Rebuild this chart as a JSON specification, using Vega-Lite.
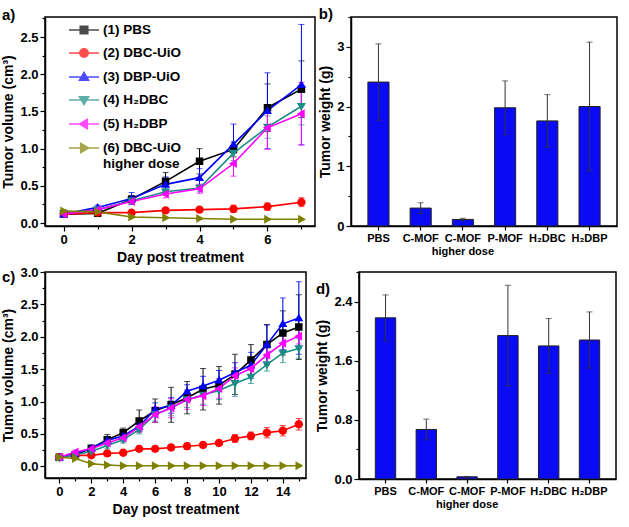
{
"$schema":"https://vega.github.io/schema/vega-lite/v6.json",
"padding":{"left":1,"top":6,"right":2,"bottom":2},
"config":{
 "font":"Liberation Sans",
 "view":{"stroke":"black","strokeWidth":1.5},
 "axis":{"domainColor":"black","domainWidth":1.5,"tickColor":"black","tickWidth":1.2,"labelFont":"Liberation Sans","labelFontWeight":"bold","labelFontSize":13,"labelColor":"black","titleFont":"Liberation Sans","titleFontWeight":"bold","titleFontSize":14,"titleColor":"black","grid":false,"labelPadding":2},
 "title":{"anchor":"start","frame":"bounds","fontSize":15,"fontWeight":"bold","font":"Liberation Sans","color":"black"}
},
"datasets":{
"a":[
{"d":0,"s":"(1) PBS","v":0.12,"e":0.02},{"d":1,"s":"(1) PBS","v":0.13,"e":0.02},{"d":2,"s":"(1) PBS","v":0.32,"e":0.05},{"d":3,"s":"(1) PBS","v":0.56,"e":0.12},{"d":4,"s":"(1) PBS","v":0.83,"e":0.17},{"d":5,"s":"(1) PBS","v":0.99,"e":0.1},{"d":6,"s":"(1) PBS","v":1.55,"e":0.32},{"d":7,"s":"(1) PBS","v":1.8,"e":0.38},
{"d":0,"s":"(2) DBC-UiO","v":0.12,"e":0.02},{"d":1,"s":"(2) DBC-UiO","v":0.14,"e":0.02},{"d":2,"s":"(2) DBC-UiO","v":0.14,"e":0.02},{"d":3,"s":"(2) DBC-UiO","v":0.17,"e":0.03},{"d":4,"s":"(2) DBC-UiO","v":0.18,"e":0.03},{"d":5,"s":"(2) DBC-UiO","v":0.19,"e":0.05},{"d":6,"s":"(2) DBC-UiO","v":0.22,"e":0.05},{"d":7,"s":"(2) DBC-UiO","v":0.28,"e":0.06},
{"d":0,"s":"(3) DBP-UiO","v":0.12,"e":0.02},{"d":1,"s":"(3) DBP-UiO","v":0.21,"e":0.03},{"d":2,"s":"(3) DBP-UiO","v":0.33,"e":0.08},{"d":3,"s":"(3) DBP-UiO","v":0.52,"e":0.1},{"d":4,"s":"(3) DBP-UiO","v":0.61,"e":0.12},{"d":5,"s":"(3) DBP-UiO","v":1.06,"e":0.27},{"d":6,"s":"(3) DBP-UiO","v":1.51,"e":0.51},{"d":7,"s":"(3) DBP-UiO","v":1.86,"e":0.81},
{"d":0,"s":"(4) H₂DBC","v":0.13,"e":0.02},{"d":1,"s":"(4) H₂DBC","v":0.18,"e":0.03},{"d":2,"s":"(4) H₂DBC","v":0.3,"e":0.04},{"d":3,"s":"(4) H₂DBC","v":0.42,"e":0.05},{"d":4,"s":"(4) H₂DBC","v":0.47,"e":0.05},{"d":5,"s":"(4) H₂DBC","v":0.94,"e":0.1},{"d":6,"s":"(4) H₂DBC","v":1.29,"e":0.15},{"d":7,"s":"(4) H₂DBC","v":1.57,"e":0.25},
{"d":0,"s":"(5) H₂DBP","v":0.12,"e":0.02},{"d":1,"s":"(5) H₂DBP","v":0.18,"e":0.03},{"d":2,"s":"(5) H₂DBP","v":0.29,"e":0.04},{"d":3,"s":"(5) H₂DBP","v":0.39,"e":0.05},{"d":4,"s":"(5) H₂DBP","v":0.46,"e":0.06},{"d":5,"s":"(5) H₂DBP","v":0.8,"e":0.17},{"d":6,"s":"(5) H₂DBP","v":1.28,"e":0.29},{"d":7,"s":"(5) H₂DBP","v":1.47,"e":0.42},
{"d":0,"s":"(6) DBC-UiO higher dose","v":0.16,"e":0.02},{"d":1,"s":"(6) DBC-UiO higher dose","v":0.15,"e":0.01},{"d":2,"s":"(6) DBC-UiO higher dose","v":0.08,"e":0.01},{"d":3,"s":"(6) DBC-UiO higher dose","v":0.07,"e":0.01},{"d":4,"s":"(6) DBC-UiO higher dose","v":0.06,"e":0.01},{"d":5,"s":"(6) DBC-UiO higher dose","v":0.05,"e":0.01},{"d":6,"s":"(6) DBC-UiO higher dose","v":0.05,"e":0.01},{"d":7,"s":"(6) DBC-UiO higher dose","v":0.05,"e":0.01}
],
"c":[
{"d":0,"s":"(1) PBS","v":0.14,"e":0.02},{"d":1,"s":"(1) PBS","v":0.18,"e":0.03},{"d":2,"s":"(1) PBS","v":0.28,"e":0.04},{"d":3,"s":"(1) PBS","v":0.41,"e":0.08},{"d":4,"s":"(1) PBS","v":0.52,"e":0.07},{"d":5,"s":"(1) PBS","v":0.7,"e":0.17},{"d":6,"s":"(1) PBS","v":0.86,"e":0.18},{"d":7,"s":"(1) PBS","v":0.95,"e":0.27},{"d":8,"s":"(1) PBS","v":1.06,"e":0.25},{"d":9,"s":"(1) PBS","v":1.19,"e":0.32},{"d":10,"s":"(1) PBS","v":1.25,"e":0.29},{"d":11,"s":"(1) PBS","v":1.42,"e":0.31},{"d":12,"s":"(1) PBS","v":1.64,"e":0.24},{"d":13,"s":"(1) PBS","v":1.88,"e":0.31},{"d":14,"s":"(1) PBS","v":2.06,"e":0.34},{"d":15,"s":"(1) PBS","v":2.15,"e":0.5},
{"d":0,"s":"(2) DBC-UiO","v":0.14,"e":0.02},{"d":1,"s":"(2) DBC-UiO","v":0.17,"e":0.02},{"d":2,"s":"(2) DBC-UiO","v":0.17,"e":0.03},{"d":3,"s":"(2) DBC-UiO","v":0.2,"e":0.03},{"d":4,"s":"(2) DBC-UiO","v":0.21,"e":0.03},{"d":5,"s":"(2) DBC-UiO","v":0.27,"e":0.04},{"d":6,"s":"(2) DBC-UiO","v":0.27,"e":0.04},{"d":7,"s":"(2) DBC-UiO","v":0.29,"e":0.04},{"d":8,"s":"(2) DBC-UiO","v":0.31,"e":0.05},{"d":9,"s":"(2) DBC-UiO","v":0.33,"e":0.04},{"d":10,"s":"(2) DBC-UiO","v":0.36,"e":0.04},{"d":11,"s":"(2) DBC-UiO","v":0.43,"e":0.06},{"d":12,"s":"(2) DBC-UiO","v":0.47,"e":0.06},{"d":13,"s":"(2) DBC-UiO","v":0.52,"e":0.08},{"d":14,"s":"(2) DBC-UiO","v":0.55,"e":0.08},{"d":15,"s":"(2) DBC-UiO","v":0.65,"e":0.09},
{"d":0,"s":"(3) DBP-UiO","v":0.14,"e":0.02},{"d":1,"s":"(3) DBP-UiO","v":0.2,"e":0.03},{"d":2,"s":"(3) DBP-UiO","v":0.28,"e":0.04},{"d":3,"s":"(3) DBP-UiO","v":0.4,"e":0.06},{"d":4,"s":"(3) DBP-UiO","v":0.47,"e":0.07},{"d":5,"s":"(3) DBP-UiO","v":0.62,"e":0.08},{"d":6,"s":"(3) DBP-UiO","v":0.88,"e":0.1},{"d":7,"s":"(3) DBP-UiO","v":0.94,"e":0.12},{"d":8,"s":"(3) DBP-UiO","v":1.16,"e":0.1},{"d":9,"s":"(3) DBP-UiO","v":1.24,"e":0.15},{"d":10,"s":"(3) DBP-UiO","v":1.33,"e":0.15},{"d":11,"s":"(3) DBP-UiO","v":1.45,"e":0.15},{"d":12,"s":"(3) DBP-UiO","v":1.56,"e":0.2},{"d":13,"s":"(3) DBP-UiO","v":1.88,"e":0.3},{"d":14,"s":"(3) DBP-UiO","v":2.2,"e":0.4},{"d":15,"s":"(3) DBP-UiO","v":2.29,"e":0.56},
{"d":0,"s":"(4) H₂DBC","v":0.13,"e":0.02},{"d":1,"s":"(4) H₂DBC","v":0.18,"e":0.03},{"d":2,"s":"(4) H₂DBC","v":0.23,"e":0.03},{"d":3,"s":"(4) H₂DBC","v":0.32,"e":0.05},{"d":4,"s":"(4) H₂DBC","v":0.41,"e":0.05},{"d":5,"s":"(4) H₂DBC","v":0.57,"e":0.07},{"d":6,"s":"(4) H₂DBC","v":0.8,"e":0.1},{"d":7,"s":"(4) H₂DBC","v":0.9,"e":0.12},{"d":8,"s":"(4) H₂DBC","v":1.03,"e":0.12},{"d":9,"s":"(4) H₂DBC","v":1.1,"e":0.14},{"d":10,"s":"(4) H₂DBC","v":1.17,"e":0.14},{"d":11,"s":"(4) H₂DBC","v":1.28,"e":0.2},{"d":12,"s":"(4) H₂DBC","v":1.38,"e":0.1},{"d":13,"s":"(4) H₂DBC","v":1.57,"e":0.1},{"d":14,"s":"(4) H₂DBC","v":1.75,"e":0.15},{"d":15,"s":"(4) H₂DBC","v":1.82,"e":0.15},
{"d":0,"s":"(5) H₂DBP","v":0.14,"e":0.02},{"d":1,"s":"(5) H₂DBP","v":0.22,"e":0.03},{"d":2,"s":"(5) H₂DBP","v":0.27,"e":0.04},{"d":3,"s":"(5) H₂DBP","v":0.36,"e":0.05},{"d":4,"s":"(5) H₂DBP","v":0.44,"e":0.06},{"d":5,"s":"(5) H₂DBP","v":0.61,"e":0.08},{"d":6,"s":"(5) H₂DBP","v":0.8,"e":0.12},{"d":7,"s":"(5) H₂DBP","v":0.9,"e":0.15},{"d":8,"s":"(5) H₂DBP","v":1.03,"e":0.15},{"d":9,"s":"(5) H₂DBP","v":1.09,"e":0.15},{"d":10,"s":"(5) H₂DBP","v":1.2,"e":0.15},{"d":11,"s":"(5) H₂DBP","v":1.4,"e":0.12},{"d":12,"s":"(5) H₂DBP","v":1.51,"e":0.12},{"d":13,"s":"(5) H₂DBP","v":1.72,"e":0.12},{"d":14,"s":"(5) H₂DBP","v":1.9,"e":0.12},{"d":15,"s":"(5) H₂DBP","v":2.01,"e":0.12},
{"d":0,"s":"(6) DBC-UiO higher dose","v":0.14,"e":0.02},{"d":1,"s":"(6) DBC-UiO higher dose","v":0.12,"e":0.01},{"d":2,"s":"(6) DBC-UiO higher dose","v":0.04,"e":0.01},{"d":3,"s":"(6) DBC-UiO higher dose","v":0.02,"e":0.01},{"d":4,"s":"(6) DBC-UiO higher dose","v":0.01,"e":0.01},{"d":5,"s":"(6) DBC-UiO higher dose","v":0.01,"e":0.01},{"d":6,"s":"(6) DBC-UiO higher dose","v":0.01,"e":0.01},{"d":7,"s":"(6) DBC-UiO higher dose","v":0.01,"e":0.01},{"d":8,"s":"(6) DBC-UiO higher dose","v":0.01,"e":0.01},{"d":9,"s":"(6) DBC-UiO higher dose","v":0.01,"e":0.01},{"d":10,"s":"(6) DBC-UiO higher dose","v":0.01,"e":0.01},{"d":11,"s":"(6) DBC-UiO higher dose","v":0.01,"e":0.01},{"d":12,"s":"(6) DBC-UiO higher dose","v":0.01,"e":0.01},{"d":13,"s":"(6) DBC-UiO higher dose","v":0.01,"e":0.01},{"d":14,"s":"(6) DBC-UiO higher dose","v":0.01,"e":0.01},{"d":15,"s":"(6) DBC-UiO higher dose","v":0.01,"e":0.01}
],
"b":[{"g":"PBS","w":2.41,"e":0.64},{"g":"C-MOF","w":0.3,"e":0.09},{"g":"C-MOF|higher dose","w":0.11,"e":0.02},{"g":"P-MOF","w":1.98,"e":0.45},{"g":"H₂DBC","w":1.76,"e":0.44},{"g":"H₂DBP","w":2.0,"e":1.08}],
"dd":[{"g":"PBS","w":2.18,"e":0.31},{"g":"C-MOF","w":0.67,"e":0.14},{"g":"C-MOF|higher dose","w":0.03,"e":0.005},{"g":"P-MOF","w":1.94,"e":0.68},{"g":"H₂DBC","w":1.8,"e":0.37},{"g":"H₂DBP","w":1.88,"e":0.38}],
"arA":[{"d":0},{"d":4}],
"arC":[{"d":0},{"d":4},{"d":8},{"d":12}]
},
"vconcat":[
{"hconcat":[
{
 "width":270,"height":209,
 "title":{"text":"a)","dy":10},
 "data":{"name":"a"},
 "encoding":{
  "x":{"field":"d","type":"quantitative","scale":{"domain":[-0.55,7.4],"nice":false,"zero":false},"axis":{"title":"Day post treatment","values":[0,1,2,3,4,5,6,7],"labelExpr":"datum.value % 2 == 0 ? datum.label : ''","tickSize":{"condition":{"test":"datum.value % 2 == 0","value":5},"value":3}}},
  "y":{"field":"v","type":"quantitative","scale":{"domain":[-0.04,2.77],"nice":false,"zero":false},"axis":{"title":"Tumor volume (cm³)","values":[0,0.25,0.5,0.75,1,1.25,1.5,1.75,2,2.25,2.5,2.75],"labelExpr":"(datum.value*2) % 1 == 0 ? format(datum.value,'.1f') : ''","tickSize":{"condition":{"test":"(datum.value*2) % 1 == 0","value":5},"value":3}}}
 },
 "layer":[
  {"mark":{"type":"errorbar","ticks":true,"thickness":1,"size":6},"encoding":{"yError":{"field":"e"},"color":{"field":"s","type":"nominal"}}},
  {"mark":{"type":"line","strokeWidth":1.6},"encoding":{"color":{"field":"s","type":"nominal","scale":{"domain":["(1) PBS","(2) DBC-UiO","(3) DBP-UiO","(4) H₂DBC","(5) H₂DBP","(6) DBC-UiO higher dose"],"range":["#000000","#ff0000","#0000ff","#1a8c86","#ff00ff","#808000"]},
   "legend":{"title":null,"orient":"none","legendX":23,"legendY":-3,"padding":0,"symbolSize":900,"symbolStrokeWidth":1.6,"labelFontSize":13.5,"labelFontWeight":"bold","labelFont":"Liberation Sans","labelColor":"black","rowPadding":-4.5,"labelOffset":3,
    "labelExpr":"datum.label == '(6) DBC-UiO higher dose' ? ['(6) DBC-UiO','higher dose'] : datum.label"}}}},
  {"mark":{"type":"point","filled":true,"size":900,"opacity":1},"encoding":{"color":{"field":"s","type":"nominal"},"shape":{"field":"s","type":"nominal","scale":{"domain":["(1) PBS","(2) DBC-UiO","(3) DBP-UiO","(4) H₂DBC","(5) H₂DBP","(6) DBC-UiO higher dose"],"range":["M-1,0H1M-0.25,-0.25H0.25V0.25H-0.25Z","M-1,0H1M0.28,0A0.28 0.28 0 1 1 -0.28,0A0.28 0.28 0 1 1 0.28,0Z","M-1,0H1M0,-0.3L0.3,0.22L-0.3,0.22Z","M-1,0H1M0,0.3L0.3,-0.22L-0.3,-0.22Z","M-1,0H1M-0.3,0L0.22,-0.3L0.22,0.3Z","M-1,0H1M0.3,0L-0.22,-0.3L-0.22,0.3Z"]},"legend":null}}},
  {"data":{"name":"arA"},"mark":{"type":"text","text":"↖","color":"#ff2020","font":"DejaVu Sans","fontSize":16,"dx":9,"dy":11,"clip":false},"encoding":{"x":{"field":"d","type":"quantitative"},"y":{"datum":-0.04}}}
 ]
},
{
 "width":266,"height":209,
 "title":{"text":"b)","dy":10},
 "data":{"name":"b"},
 "encoding":{
  "x":{"field":"g","type":"nominal","sort":null,"scale":{"paddingInner":0.5,"paddingOuter":0.4},"axis":{"title":null,"labelAngle":0,"labelFontSize":11,"labelExpr":"split(datum.label,'|')","tickSize":4}},
  "y":{"field":"w","type":"quantitative","scale":{"domain":[0,3.5],"nice":false},"axis":{"title":"Tumor weight (g)","values":[0,0.5,1,1.5,2,2.5,3,3.5],"labelExpr":"datum.value % 1 == 0 ? format(datum.value,'d') : ''","tickSize":{"condition":{"test":"datum.value % 1 == 0","value":5},"value":3}}}
 },
 "layer":[
  {"mark":{"type":"bar","color":"#0a0af5","stroke":"#202020","strokeWidth":1}},
  {"mark":{"type":"errorbar","ticks":true,"thickness":1,"size":6,"color":"#333333"},"encoding":{"yError":{"field":"e"}}}
 ]
}
],"spacing":0},
{"hconcat":[
{
 "width":261,"height":206,
 "title":{"text":"c)","dy":23},
 "data":{"name":"c"},
 "encoding":{
  "x":{"field":"d","type":"quantitative","scale":{"domain":[-0.9,15.45],"nice":false,"zero":false},"axis":{"title":"Day post treatment","values":[0,1,2,3,4,5,6,7,8,9,10,11,12,13,14,15],"labelExpr":"datum.value % 2 == 0 ? datum.label : ''","tickSize":{"condition":{"test":"datum.value % 2 == 0","value":5},"value":3}}},
  "y":{"field":"v","type":"quantitative","scale":{"domain":[-0.18,3.0],"nice":false,"zero":false},"axis":{"title":"Tumor volume (cm³)","values":[0,0.25,0.5,0.75,1,1.25,1.5,1.75,2,2.25,2.5,2.75,3],"labelExpr":"(datum.value*2) % 1 == 0 ? format(datum.value,'.1f') : ''","tickSize":{"condition":{"test":"(datum.value*2) % 1 == 0","value":5},"value":3}}}
 },
 "layer":[
  {"mark":{"type":"errorbar","ticks":true,"thickness":1,"size":6},"encoding":{"yError":{"field":"e"},"color":{"field":"s","type":"nominal"}}},
  {"mark":{"type":"line","strokeWidth":1.6},"encoding":{"color":{"field":"s","type":"nominal","scale":{"domain":["(1) PBS","(2) DBC-UiO","(3) DBP-UiO","(4) H₂DBC","(5) H₂DBP","(6) DBC-UiO higher dose"],"range":["#000000","#ff0000","#0000ff","#1a8c86","#ff00ff","#808000"]},
   "legend":{"title":null,"orient":"none","legendX":8,"legendY":-2,"padding":0,"symbolSize":900,"symbolStrokeWidth":1.6,"labelFontSize":13.5,"labelFontWeight":"bold","labelFont":"Liberation Sans","labelColor":"black","rowPadding":-4.5,"labelOffset":3,
    "labelExpr":"datum.label == '(6) DBC-UiO higher dose' ? ['(6) DBC-UiO','higher dose'] : datum.label"}}}},
  {"mark":{"type":"point","filled":true,"size":900,"opacity":1},"encoding":{"color":{"field":"s","type":"nominal"},"shape":{"field":"s","type":"nominal","scale":{"domain":["(1) PBS","(2) DBC-UiO","(3) DBP-UiO","(4) H₂DBC","(5) H₂DBP","(6) DBC-UiO higher dose"],"range":["M-1,0H1M-0.25,-0.25H0.25V0.25H-0.25Z","M-1,0H1M0.28,0A0.28 0.28 0 1 1 -0.28,0A0.28 0.28 0 1 1 0.28,0Z","M-1,0H1M0,-0.3L0.3,0.22L-0.3,0.22Z","M-1,0H1M0,0.3L0.3,-0.22L-0.3,-0.22Z","M-1,0H1M-0.3,0L0.22,-0.3L0.22,0.3Z","M-1,0H1M0.3,0L-0.22,-0.3L-0.22,0.3Z"]},"legend":null}}},
  {"data":{"name":"arC"},"mark":{"type":"text","text":"↖","color":"#ff2020","font":"DejaVu Sans","fontSize":17,"dx":9,"dy":11,"clip":false},"encoding":{"x":{"field":"d","type":"quantitative"},"y":{"datum":-0.18}}}
 ]
},
{
 "width":257,"height":207,
 "title":{"text":"d)","dy":30},
 "data":{"name":"dd"},
 "encoding":{
  "x":{"field":"g","type":"nominal","sort":null,"scale":{"paddingInner":0.5,"paddingOuter":0.4},"axis":{"title":null,"labelAngle":0,"labelFontSize":11,"labelExpr":"split(datum.label,'|')","tickSize":4}},
  "y":{"field":"w","type":"quantitative","scale":{"domain":[0,2.8],"nice":false},"axis":{"title":"Tumor weight (g)","values":[0,0.4,0.8,1.2,1.6,2.0,2.4,2.8],"labelExpr":"abs(datum.value/0.8 - round(datum.value/0.8)) < 0.001 ? format(datum.value,'.1f') : ''","tickSize":{"condition":{"test":"abs(datum.value/0.8 - round(datum.value/0.8)) < 0.001","value":5},"value":3}}}
 },
 "layer":[
  {"mark":{"type":"bar","color":"#0a0af5","stroke":"#202020","strokeWidth":1}},
  {"mark":{"type":"errorbar","ticks":true,"thickness":1,"size":6,"color":"#333333"},"encoding":{"yError":{"field":"e"}}}
 ]
}
],"spacing":0}
],
"spacing":0
}
